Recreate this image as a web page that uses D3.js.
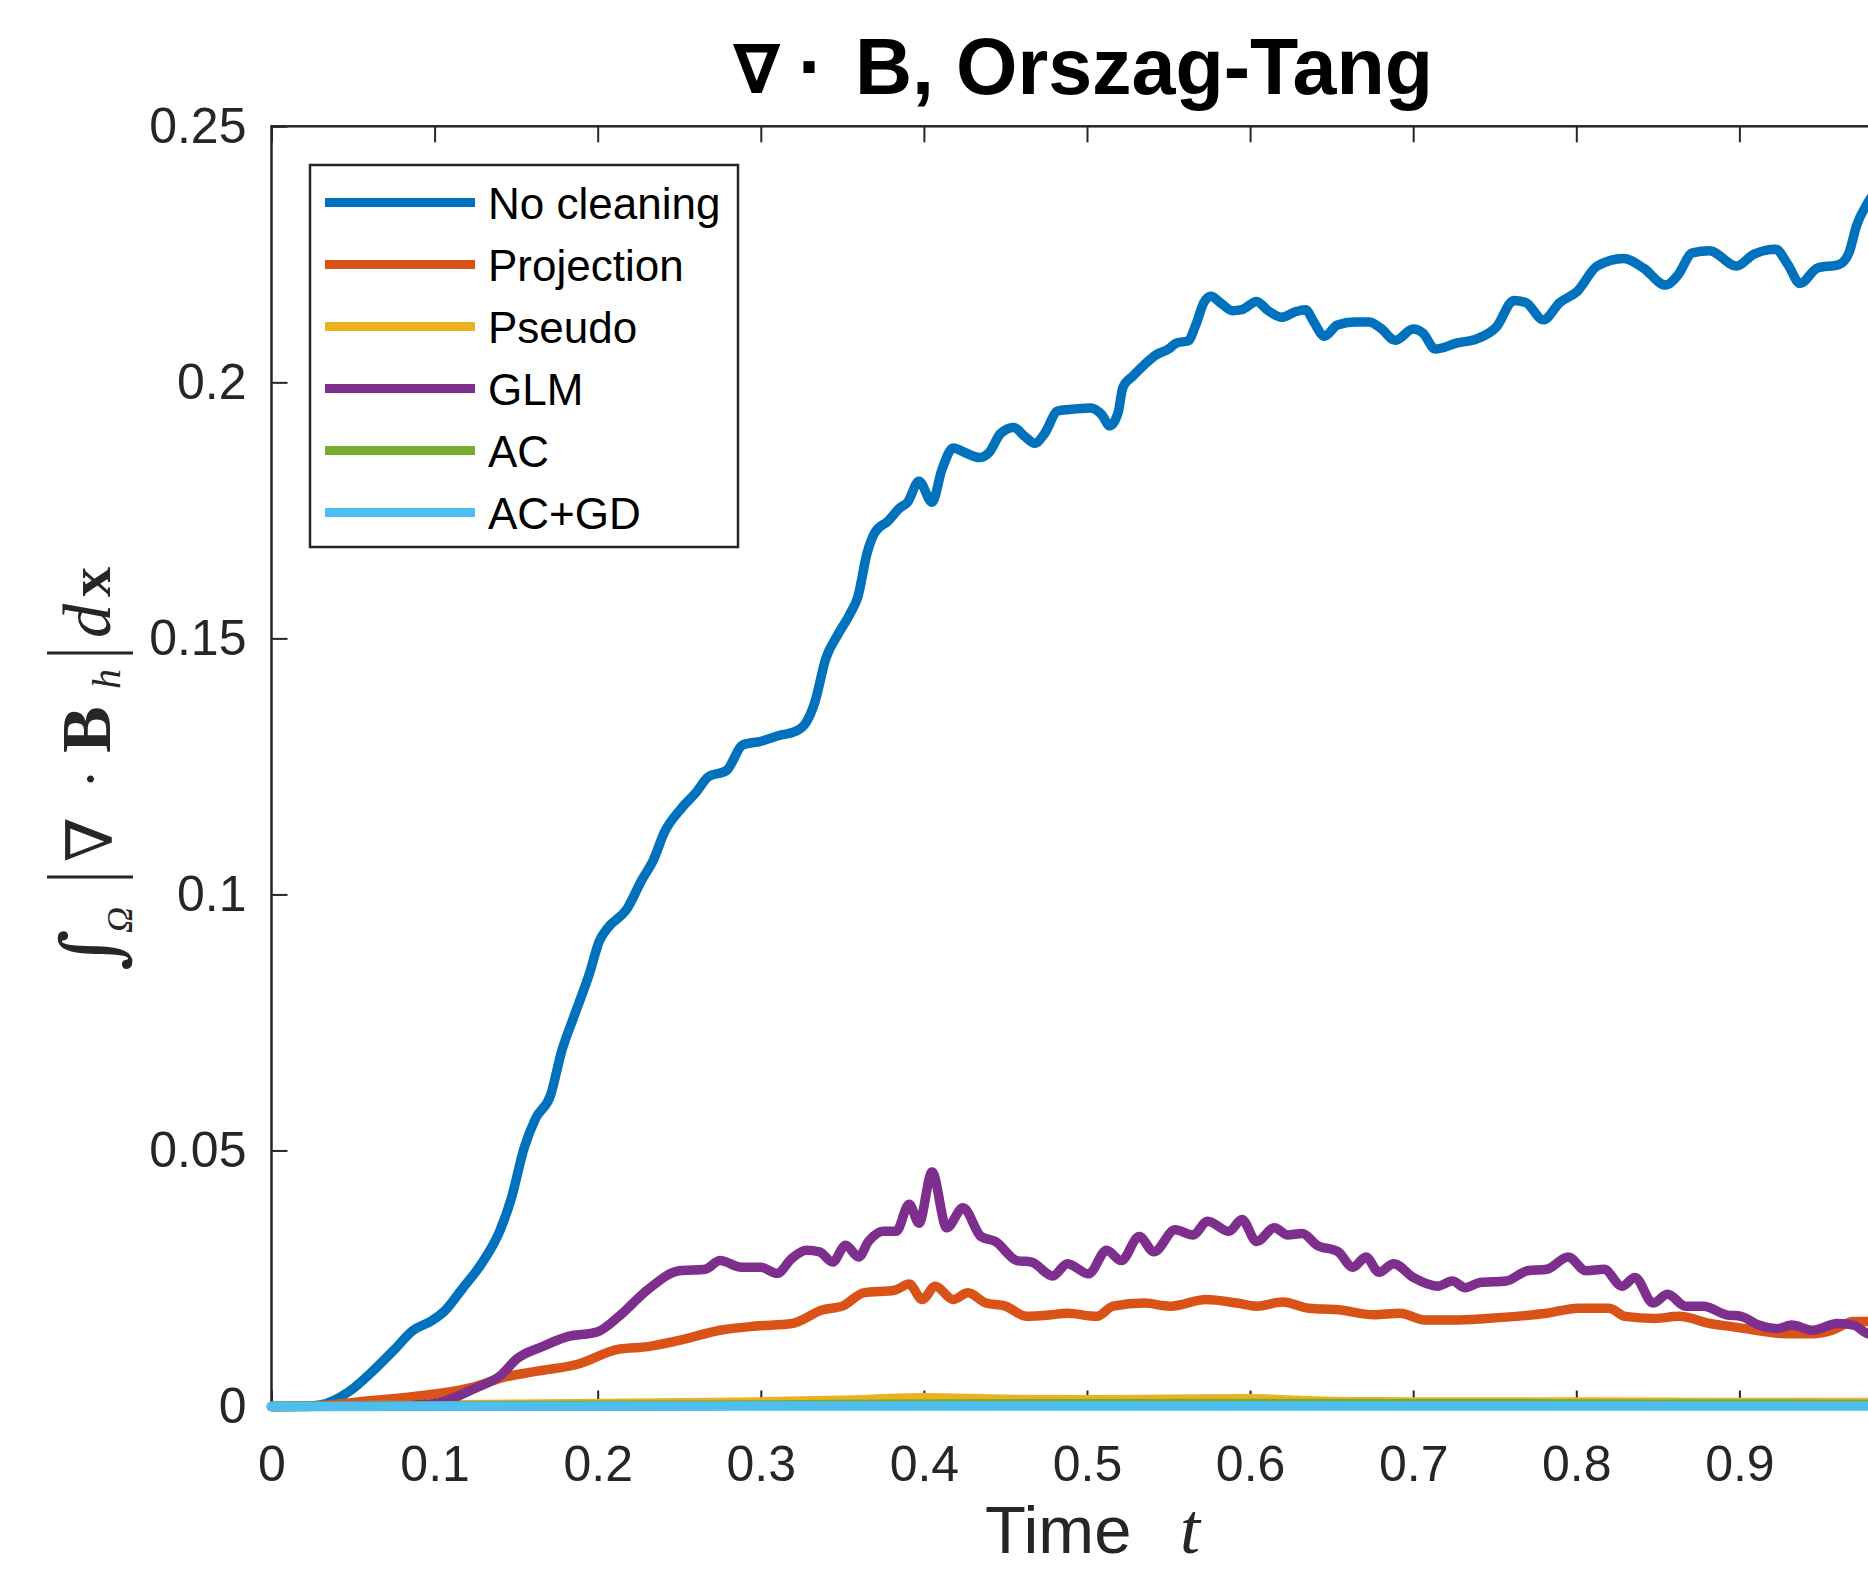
<!DOCTYPE html>
<html>
<head>
<meta charset="utf-8">
<script src="https://cdn.jsdelivr.net/npm/d3@7"></script>
<style>
    body { margin: 0; background: #fff; }
    svg { display: block; }
</style>
</head>
<body>
<div id="chart"></div>
<script>
// values, [time, integral of |div B|]
const noCleaning = [[0,0],[0.02,0],[0.03,0.0003],[0.047,0.0028],[0.061,0.0066],[0.075,0.011],[0.0865,0.0148],[0.098,0.0167],[0.106,0.0186],[0.117,0.023],[0.129,0.028],[0.14,0.0343],[0.147,0.0406],[0.155,0.0506],[0.162,0.0563],[0.171,0.0607],[0.178,0.0695],[0.185,0.0758],[0.195,0.0846],[0.201,0.0909],[0.206,0.0934],[0.218,0.0972],[0.227,0.1028],[0.234,0.1066],[0.241,0.1122],[0.251,0.1167],[0.26,0.1198],[0.268,0.123],[0.279,0.1242],[0.289,0.1292],[0.3,0.1299],[0.312,0.1311],[0.321,0.1318],[0.328,0.1337],[0.333,0.1374],[0.34,0.1462],[0.347,0.1506],[0.3547,0.1548],[0.3594,0.158],[0.3652,0.1667],[0.37,0.1707],[0.378,0.1729],[0.385,0.1754],[0.39,0.1766],[0.397,0.1807],[0.405,0.1766],[0.411,0.1829],[0.418,0.1872],[0.425,0.1863],[0.434,0.1853],[0.44,0.1863],[0.447,0.19],[0.455,0.1912],[0.462,0.1894],[0.468,0.1881],[0.474,0.19],[0.482,0.1944],[0.489,0.1947],[0.502,0.195],[0.509,0.1937],[0.514,0.1915],[0.519,0.194],[0.522,0.199],[0.528,0.2012],[0.535,0.2034],[0.542,0.2053],[0.55,0.2065],[0.555,0.2077],[0.562,0.2081],[0.567,0.2115],[0.5715,0.2155],[0.576,0.2168],[0.582,0.2155],[0.589,0.214],[0.595,0.2142],[0.604,0.2158],[0.611,0.214],[0.6195,0.2127],[0.627,0.2137],[0.634,0.2142],[0.639,0.2118],[0.6455,0.209],[0.6535,0.2112],[0.664,0.2118],[0.673,0.2118],[0.68,0.2106],[0.689,0.2082],[0.7,0.2104],[0.706,0.2096],[0.7135,0.2065],[0.727,0.2077],[0.739,0.2085],[0.751,0.2108],[0.7617,0.216],[0.769,0.2156],[0.7797,0.2122],[0.79,0.2156],[0.8007,0.2178],[0.8127,0.2227],[0.8292,0.2242],[0.8412,0.2223],[0.8547,0.219],[0.8622,0.2209],[0.8712,0.2253],[0.8817,0.2257],[0.8982,0.2227],[0.9087,0.225],[0.9222,0.226],[0.9297,0.223],[0.9372,0.2193],[0.9477,0.2223],[0.9612,0.223],[0.9672,0.2253],[0.9717,0.2305],[0.9786,0.235],[0.985,0.238]];
const projection = [[0,0],[0.03,0.0002],[0.053,0.0009],[0.094,0.0022],[0.125,0.0039],[0.141,0.0056],[0.163,0.0069],[0.187,0.0082],[0.213,0.0112],[0.231,0.0117],[0.25,0.0129],[0.275,0.0149],[0.297,0.0157],[0.319,0.0162],[0.338,0.0189],[0.35,0.0196],[0.363,0.0222],[0.382,0.0227],[0.391,0.0239],[0.399,0.0209],[0.407,0.0235],[0.418,0.0209],[0.427,0.0222],[0.438,0.0202],[0.45,0.0196],[0.463,0.0176],[0.478,0.0179],[0.488,0.0182],[0.506,0.0176],[0.516,0.0196],[0.535,0.0202],[0.551,0.0196],[0.573,0.0209],[0.592,0.0202],[0.604,0.0196],[0.62,0.0204],[0.636,0.0192],[0.654,0.0189],[0.676,0.0179],[0.692,0.0182],[0.707,0.0169],[0.726,0.0169],[0.745,0.0172],[0.763,0.0176],[0.782,0.0182],[0.801,0.0192],[0.82,0.0192],[0.83,0.0176],[0.848,0.0172],[0.863,0.0176],[0.882,0.0162],[0.895,0.0156],[0.91,0.0149],[0.929,0.0142],[0.945,0.0142],[0.957,0.0149],[0.97,0.0166],[0.985,0.0166]];
const pseudo = [[0,0],[0.1,0.0003],[0.2,0.0006],[0.3,0.0009],[0.35,0.0012],[0.4,0.0017],[0.45,0.0014],[0.5,0.0013],[0.55,0.0014],[0.6,0.0015],[0.65,0.001],[0.7,0.0009],[0.8,0.0009],[0.9,0.0008],[0.985,0.0008]];
const glm = [[0,0],[0.08,0.0002],[0.1,0.0006],[0.125,0.0036],[0.141,0.0062],[0.15,0.0092],[0.166,0.0117],[0.181,0.0136],[0.2,0.0146],[0.213,0.0176],[0.231,0.0229],[0.25,0.0265],[0.266,0.0268],[0.275,0.0285],[0.288,0.0272],[0.3,0.0272],[0.31,0.026],[0.319,0.0289],[0.328,0.0305],[0.336,0.0302],[0.344,0.0282],[0.352,0.0315],[0.36,0.0292],[0.366,0.0322],[0.375,0.0342],[0.383,0.0342],[0.391,0.0395],[0.397,0.0358],[0.405,0.0458],[0.414,0.0349],[0.424,0.0388],[0.435,0.0332],[0.444,0.0322],[0.457,0.0285],[0.466,0.0282],[0.479,0.0255],[0.488,0.0279],[0.501,0.0259],[0.512,0.0305],[0.521,0.0285],[0.532,0.0332],[0.541,0.0302],[0.554,0.0345],[0.565,0.0335],[0.574,0.0362],[0.587,0.0342],[0.595,0.0365],[0.604,0.0322],[0.615,0.0349],[0.623,0.0335],[0.632,0.0338],[0.641,0.0315],[0.654,0.0302],[0.663,0.0272],[0.671,0.0292],[0.679,0.0262],[0.688,0.0279],[0.7,0.0252],[0.715,0.0235],[0.724,0.0245],[0.732,0.0232],[0.741,0.0242],[0.757,0.0245],[0.77,0.0265],[0.782,0.0268],[0.795,0.0292],[0.806,0.0265],[0.817,0.0268],[0.828,0.0235],[0.836,0.0252],[0.847,0.0202],[0.856,0.0219],[0.867,0.0196],[0.878,0.0196],[0.892,0.0179],[0.901,0.0176],[0.912,0.0159],[0.923,0.0152],[0.932,0.0159],[0.945,0.0149],[0.96,0.0162],[0.97,0.0159],[0.979,0.0142],[0.985,0.014]];
const ac = [[0,0],[0.15,0.0002],[0.3,0.0003],[0.4,0.0005],[0.6,0.0006],[0.8,0.0005],[0.985,0.0004]];
const acgd = [[0,0],[0.5,0.0001],[0.985,0.0001]];

const seriesNames = ["No cleaning", "Projection", "Pseudo", "GLM", "AC", "AC+GD"];
const seriesColors = ["#0072BD", "#D95319", "#EDB120", "#7E2F8E", "#77AC30", "#4DBEEE"];
const seriesData = [noCleaning, projection, pseudo, glm, ac, acgd];

// x = 1 sits past the cropped right edge, so its label is not drawn
const xTicks = [0, 0.1, 0.2, 0.3, 0.4, 0.5, 0.6, 0.7, 0.8, 0.9];
const xTickLabels = ["0", "0.1", "0.2", "0.3", "0.4", "0.5", "0.6", "0.7", "0.8", "0.9"];
const yTicks = [0, 0.05, 0.1, 0.15, 0.2, 0.25];
const yTickLabels = ["0", "0.05", "0.1", "0.15", "0.2", "0.25"];

class DivBChart {
    constructor(element) {
        this.ele = d3.select(element);
        this.width = 1868;
        this.height = 1569;
        this.left = 271.5;
        this.right = 1902.5;
        this.top = 126.3;
        this.bottom = 1406.5;
        this.axisColor = "#262626";
        this.initParams();
        this.drawAxes();
        this.drawLines();
        this.drawLegend();
        this.drawLabels();
    }

    initParams() {
        this.svg = this.ele.append("svg")
            .attr("width", this.width)
            .attr("height", this.height)
            .style("font-family", "'Liberation Sans', Arial, sans-serif");
        this.svg.append("rect")
            .attr("width", this.width).attr("height", this.height)
            .attr("fill", "#fff");
        this.x = d3.scaleLinear().domain([0, 1]).range([this.left, this.right]);
        this.y = d3.scaleLinear().domain([0, 0.25]).range([this.bottom, this.top]);
    }

    drawAxes() {
        let fmtX = (d, i) => xTickLabels[i];
        let fmtY = (d, i) => yTickLabels[i];

        let gx = this.svg.append("g")
            .attr("transform", "translate(0," + this.bottom + ")")
            .call(d3.axisBottom(this.x).tickValues(xTicks).tickFormat(fmtX).tickSize(-16).tickPadding(39));
        let gxTop = this.svg.append("g")
            .attr("transform", "translate(0," + this.top + ")")
            .call(d3.axisTop(this.x).tickValues(xTicks).tickFormat("").tickSize(-16));
        let gy = this.svg.append("g")
            .attr("transform", "translate(" + this.left + ",0)")
            .call(d3.axisLeft(this.y).tickValues(yTicks).tickFormat(fmtY).tickSize(-16).tickPadding(25));

        [gx, gxTop, gy].forEach(g => {
            g.select(".domain").remove();
            g.selectAll(".tick line").attr("stroke", this.axisColor).attr("stroke-width", 2);
            g.selectAll(".tick text")
                .attr("fill", this.axisColor)
                .style("font-size", "50px")
                .style("font-family", "'Liberation Sans', Arial, sans-serif");
        });

        this.svg.append("rect")
            .attr("x", this.left).attr("y", this.top)
            .attr("width", this.right - this.left)
            .attr("height", this.bottom - this.top)
            .attr("fill", "none")
            .attr("stroke", this.axisColor)
            .attr("stroke-width", 2.5);
    }

    drawLines() {
        let line = d3.line()
            .x(d => this.x(d[0]))
            .y(d => this.y(d[1]))
            .curve(d3.curveMonotoneX);

        // plotted in MATLAB order, later series on top
        this.svg.append("g")
            .selectAll("path")
            .data(seriesData)
            .enter()
            .append("path")
            .attr("d", d => line(d))
            .attr("fill", "none")
            .attr("stroke", (d, i) => seriesColors[i])
            .attr("stroke-width", 9.5)
            .attr("stroke-linejoin", "round")
            .attr("stroke-linecap", "round");
    }

    drawLegend() {
        let lg = this.svg.append("g");
        lg.append("rect")
            .attr("x", 310).attr("y", 165)
            .attr("width", 428).attr("height", 382)
            .attr("fill", "#fff")
            .attr("stroke", this.axisColor)
            .attr("stroke-width", 2.5);

        let rows = lg.selectAll(".item")
            .data(seriesNames)
            .enter()
            .append("g")
            .attr("class", "item")
            .attr("transform", (d, i) => "translate(0," + (202.5 + i * 62) + ")");
        rows.append("line")
            .attr("x1", 325).attr("x2", 475)
            .attr("y1", 0).attr("y2", 0)
            .attr("stroke", (d, i) => seriesColors[i])
            .attr("stroke-width", 9);
        rows.append("text")
            .text(d => d)
            .attr("x", 488)
            .attr("y", 16)
            .style("font-size", "44px")
            .attr("fill", "#000");
    }

    drawLabels() {
        // title
        let t = this.svg.append("g").attr("fill", "#000");
        t.append("text").text("\u2207")
            .attr("x", 733).attr("y", 93)
            .style("font-family", "'DejaVu Sans', sans-serif")
            .style("font-weight", "bold")
            .style("font-size", "68px");
        t.append("text").text("\u00b7")
            .attr("x", 798).attr("y", 94)
            .style("font-weight", "bold")
            .style("font-size", "79px");
        t.append("text").text("B, Orszag-Tang")
            .attr("x", 855).attr("y", 94)
            .style("font-weight", "bold")
            .style("font-size", "79px");

        // x label, close to the bottom edge as in the figure
        this.svg.append("text").text("Time")
            .attr("x", 985).attr("y", 1553)
            .attr("fill", this.axisColor)
            .style("font-size", "67px");
        this.svg.append("text").text("t")
            .attr("x", 1180).attr("y", 1553)
            .attr("fill", this.axisColor)
            .style("font-family", "'Liberation Serif', 'Times New Roman', serif")
            .style("font-style", "italic")
            .style("font-size", "72px");

        // y label, rotated; x runs upward along the axis, y = 0 is the baseline
        let yl = this.svg.append("g")
            .attr("transform", "translate(110,765) rotate(-90)")
            .attr("fill", this.axisColor)
            .style("font-family", "'Liberation Serif', 'Times New Roman', serif");
        yl.append("text").text("\u222b")
            .attr("x", -206).attr("y", 8)
            .style("font-family", "'DejaVu Serif', serif")
            .style("font-style", "italic")
            .style("font-size", "80px");
        yl.append("text").text("\u03a9")
            .attr("x", -168).attr("y", 22)
            .style("font-style", "italic")
            .style("font-size", "36px");
        [-112, 112].forEach(u => {
            yl.append("line")
                .attr("x1", u).attr("x2", u)
                .attr("y1", -63).attr("y2", 23)
                .attr("stroke", this.axisColor)
                .attr("stroke-width", 3);
        });
        yl.append("text").text("\u2207")
            .attr("x", -97).attr("y", 2)
            .style("font-family", "'DejaVu Serif', serif")
            .style("font-size", "64px");
        yl.append("text").text("\u00b7")
            .attr("x", -24).attr("y", 0)
            .style("font-size", "60px");
        yl.append("text").text("B")
            .attr("x", 12).attr("y", 0)
            .style("font-weight", "bold")
            .style("font-size", "70px");
        yl.append("text").text("h")
            .attr("x", 76).attr("y", 10)
            .style("font-style", "italic")
            .style("font-size", "40px");
        yl.append("text").text("d")
            .attr("x", 127).attr("y", 0)
            .style("font-style", "italic")
            .style("font-size", "68px");
        yl.append("text").text("x")
            .attr("x", 168).attr("y", 0)
            .style("font-weight", "bold")
            .style("font-size", "60px");
    }
}

new DivBChart("#chart");
</script>
</body>
</html>
